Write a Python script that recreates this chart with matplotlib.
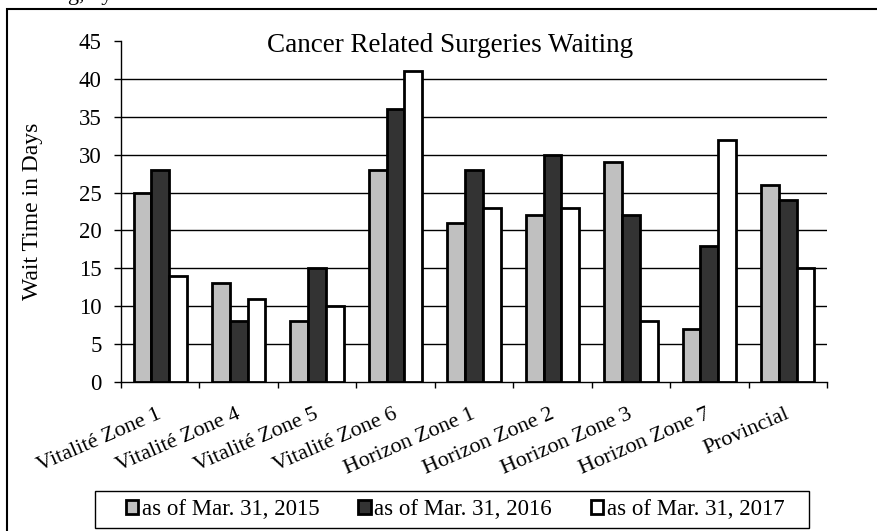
import numpy as np
import matplotlib
matplotlib.use("Agg")
import matplotlib.pyplot as plt
from matplotlib.patches import Rectangle
from matplotlib.transforms import blended_transform_factory

plt.rcParams["font.family"] = ["Liberation Serif", "DejaVu Serif"]

# data
zones = ["Vitalité Zone 1", "Vitalité Zone 4", "Vitalité Zone 5", "Vitalité Zone 6",
         "Horizon Zone 1", "Horizon Zone 2", "Horizon Zone 3", "Horizon Zone 7",
         "Provincial"]
wait_2015 = [25, 13, 8, 28, 21, 22, 29, 7, 26]
wait_2016 = [28, 8, 15, 36, 28, 30, 22, 18, 24]
wait_2017 = [14, 11, 10, 41, 23, 23, 8, 32, 15]
series_labels = ["as of Mar. 31, 2015", "as of Mar. 31, 2016", "as of Mar. 31, 2017"]
series_colors = ["#c0c0c0", "#333333", "#ffffff"]

fig = plt.figure(figsize=(8.77, 5.31), dpi=100)
ax = fig.add_axes([121 / 877, 1 - 382 / 531, 706 / 877, 341 / 531])

x = np.arange(len(zones))
w = 0.227
for i, (vals, lab, col) in enumerate(zip([wait_2015, wait_2016, wait_2017], series_labels, series_colors)):
    ax.bar(x + (i - 1) * w, vals, width=w, color=col, edgecolor="black",
           linewidth=2, label=lab, zorder=3)

ax.set_xlim(-0.5, len(zones) - 0.5)
ax.set_ylim(0, 45)
ax.set_yticks(range(0, 50, 5))
for yv in range(5, 45, 5):
    ax.axhline(yv, color="black", linewidth=1, zorder=1)

ax.set_xticks(np.arange(len(zones) + 1) - 0.5)
ax.set_xticklabels([])
ax.tick_params(axis="x", length=4.5, width=1, direction="out")
ax.tick_params(axis="y", length=5, width=1, direction="out", labelsize=16.5, pad=9)
for i, z in enumerate(zones):
    ax.text(i + 0.03, -4.75, z, rotation=23.5, rotation_mode="anchor",
            ha="right", va="baseline", fontsize=16)

for s in ["top", "right"]:
    ax.spines[s].set_visible(False)
ax.spines["left"].set_linewidth(1)
ax.spines["bottom"].set_linewidth(1)

ax.set_ylabel("Wait Time in Days", fontsize=17)
ax.yaxis.set_label_coords((33 - 121) / 706, 0.5)
ax.yaxis.label.set_verticalalignment("center")

ax.text(450 / 877, 44.4, "Cancer Related Surgeries Waiting",
        transform=blended_transform_factory(fig.transFigure, ax.transData),
        fontsize=19.5, ha="center", va="center")

# legend box drawn separately so it can be wider than its entries
fig.patches.append(Rectangle((95 / 877, 1 - 528 / 531), 714 / 877, 37 / 531,
                             transform=fig.transFigure, fill=False,
                             edgecolor="black", linewidth=1))
leg = fig.legend(loc="center", bbox_to_anchor=(455 / 877, 1 - 509.5 / 531), ncol=3,
                 frameon=False, fontsize=16.5,
                 handlelength=0.55, handleheight=0.55, handletextpad=0.15,
                 columnspacing=1.7, borderpad=0.0)

# outer frame of the original figure and the caption cut off above it
fig.patches.append(Rectangle((7 / 877, -0.1), 1.2, 1 - 9 / 531 + 0.1,
                             transform=fig.transFigure, fill=False,
                             edgecolor="black", linewidth=1.5))
fig.text(112 / 877, 1.0, "Waiting, by", ha="right", va="baseline", fontsize=16)

fig.savefig("out.png", dpi=100)
